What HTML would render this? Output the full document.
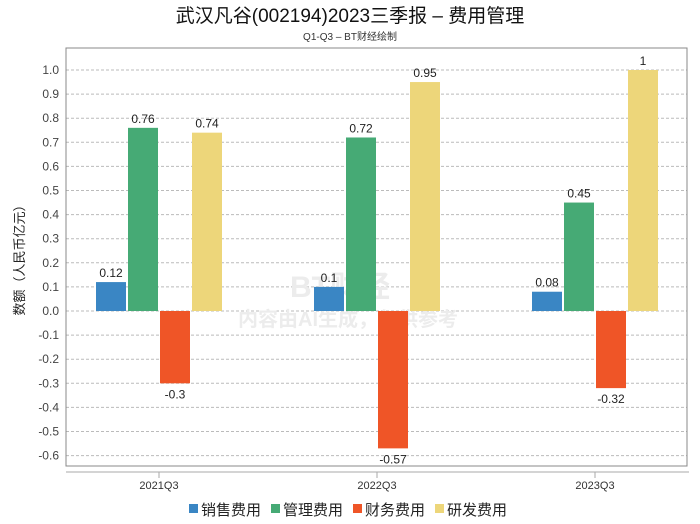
<!DOCTYPE html>
<html><head><meta charset="utf-8"><style>
body{margin:0;background:#fff;}
svg{display:block;font-family:"Liberation Sans","Noto Sans CJK SC",sans-serif;}
</style></head><body>
<svg id="c" width="700" height="524"></svg>
<script>
const categories=["2021Q3","2022Q3","2023Q3"];
const seriesNames=["销售费用","管理费用","财务费用","研发费用"];
const colors=["#3a86c4","#46aa75","#ef5527","#edd67a"];
const sales=[0.12,0.1,0.08];
const admin=[0.76,0.72,0.45];
const finance=[-0.3,-0.57,-0.32];
const rnd=[0.74,0.95,1];
const labels=[["0.12","0.1","0.08"],["0.76","0.72","0.45"],["-0.3","-0.57","-0.32"],["0.74","0.95","1"]];
const yTicks=[-0.6,-0.5,-0.4,-0.3,-0.2,-0.1,0,0.1,0.2,0.3,0.4,0.5,0.6,0.7,0.8,0.9,1.0];
const series=[sales,admin,finance,rnd];
const NS="http://www.w3.org/2000/svg";
const svg=document.getElementById('c');
function mk(t,a,txt){const e=document.createElementNS(NS,t);for(const k in a)e.setAttribute(k,a[k]);if(txt!==undefined)e.textContent=txt;svg.appendChild(e);return e;}
const L=66,R=687,T=48,B=466;
const y=v=>311-v*241;
const xc=i=>159+218*i;
let e;
e=mk('text',{x:350,y:22,'text-anchor':'middle','font-size':19,fill:'#111'},'武汉凡谷(002194)2023三季报 – 费用管理');

e=mk('text',{x:350,y:40,'text-anchor':'middle','font-size':10,fill:'#333'},'Q1-Q3 – BT财经绘制');

yTicks.forEach(v=>{
 e=mk('line',{x1:L,x2:R,y1:y(v),y2:y(v),stroke:'#bbb','stroke-dasharray':'3,2','stroke-width':1});
 
 e=mk('text',{x:L-7,y:y(v)+4,'text-anchor':'end','font-size':12,fill:'#444'},v.toFixed(1));
 
});
e=mk('rect',{x:L,y:T,width:R-L,height:B-T,fill:'none',stroke:'#888'});

e=mk('line',{x1:L,x2:R+2,y1:472,y2:472,stroke:'#aaa'});

e=mk('text',{x:0,y:0,transform:'translate(24,257) rotate(-90)','text-anchor':'middle','font-size':13,fill:'#222'},'数额（人民币亿元）');

e=mk('text',{x:340,y:297,'text-anchor':'middle','font-size':30,'font-weight':'bold',fill:'#ececec'},'BT财经');

e=mk('text',{x:348,y:326,'text-anchor':'middle','font-size':20,'font-weight':'bold',fill:'#ececec'},'内容由AI生成，仅供参考');

const bw=30,gap=2;
categories.forEach((c,i)=>{
 e=mk('line',{x1:xc(i),x2:xc(i),y1:472,y2:478,stroke:'#aaa'});
 
 e=mk('text',{x:xc(i),y:489,'text-anchor':'middle','font-size':11,fill:'#333'},c);
 
 series.forEach((s,j)=>{
  const x0=xc(i)-(4*bw+3*gap)/2+j*(bw+gap);
  const v=s[i];const y0=Math.min(y(v),y(0));const h=Math.abs(y(v)-y(0));
  e=mk('rect',{x:x0,y:y0,width:bw,height:h,fill:colors[j]});
  
  e=mk('text',{x:x0+bw/2,y:v>=0?y(v)-5:y(v)+15,'text-anchor':'middle','font-size':12,fill:'#222'},labels[j][i]);
  
 });
});
let lx=189;
seriesNames.forEach((n,j)=>{
 e=mk('rect',{x:lx,y:504,width:9,height:9,fill:colors[j]});
 
 e=mk('text',{x:lx+12,y:515,'font-size':15,fill:'#222'},n);
 
 lx+=82;
});
</script>
</body></html>
